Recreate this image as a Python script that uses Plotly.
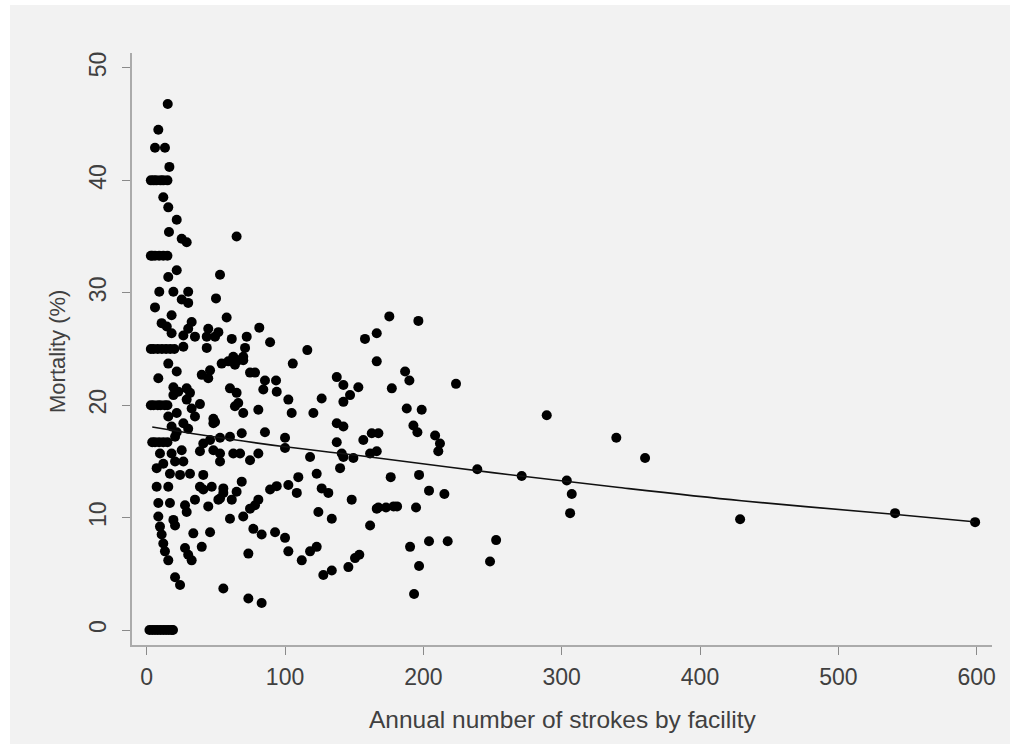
import plotly.graph_objects as go

# Facilities with very few strokes per year (mortality falls on k/n fractions)
strokes_small = [15.2, 8.4, 6, 13.2, 16.4,
                 3, 5, 7, 10, 12, 15,
                 12, 15.6, 21.7, 16.1, 25.3, 28.9, 65,
                 3, 4, 6, 9, 12, 15,
                 21.7, 15.6, 53,
                 9.1, 19.3, 30, 25.3, 30, 50.1, 6, 18, 57.8, 10.8, 14.5, 32.5, 30, 18, 44.5,
                 51.8, 26.5, 34.9, 43.4, 61.5,
                 3, 5, 8, 11, 14, 17, 20,
                 26.5, 43.4, 59, 66.2, 15.6, 8.4, 21.7, 39.8, 45.8, 44.5, 60.2, 19.3, 22.8,
                 28.9, 31.3,
                 3, 5, 8, 10, 13, 15,
                 19.3, 28.9, 32.5, 38.5, 21.7, 15.6, 34.9, 49.4, 26.5, 18, 21.7, 30,
                 4, 6, 9, 12, 15,
                 20.5, 40.9, 45.8, 53, 60.2, 9.6, 18, 25.3, 38.5, 48.2, 53, 62.6, 12, 20.5,
                 26.5, 7.2, 16.8, 24.1, 31.3,
                 7.2, 15.6, 38.5, 47, 55.4, 8.4, 16.8, 27.7, 28.9, 34.9, 44.5, 53, 60.2,
                 8.4, 19.3, 9.6, 10.8, 12, 13.2, 15.6, 20.5, 33.7, 45.8, 39.8, 27.7, 30,
                 32.5, 20.5, 24.1, 55.4,
                 2, 4, 6, 8, 10, 12, 14, 16, 18, 19]
mortality_small = [46.8, 44.5, 42.9, 42.9, 41.2,
                   40, 40, 40, 40, 40, 40,
                   38.5, 37.6, 36.5, 35.4, 34.8, 34.5, 35.0,
                   33.3, 33.3, 33.3, 33.3, 33.3, 33.3,
                   32.0, 31.4, 31.6,
                   30.1, 30.1, 30.1, 29.4, 29.1, 29.5, 28.7, 28.0, 27.8, 27.3, 27.0, 27.4,
                   26.8, 26.4, 26.8, 26.5, 26.2, 26.1, 26.1, 25.9,
                   25, 25, 25, 25, 25, 25, 25,
                   25.2, 25.1, 23.9, 24.0, 23.7, 22.4, 23.0, 22.7, 23.1, 22.4, 21.5, 21.6,
                   21.2, 21.5, 21.1,
                   20, 20, 20, 20, 20, 20,
                   20.9, 20.5, 19.7, 20.1, 19.3, 19.0, 19.0, 18.5, 18.4, 18.1, 17.6, 17.9,
                   16.7, 16.7, 16.7, 16.7, 16.7,
                   17.2, 16.6, 16.9, 17.1, 17.2, 15.7, 15.7, 16.0, 15.9, 16.0, 15.7, 15.7,
                   14.8, 15.0, 15.0, 14.4, 13.9, 13.8, 13.9,
                   12.75, 12.75, 12.75, 12.75, 12.2, 11.3, 11.3, 11.1, 10.5, 11.6, 11.0,
                   11.7, 9.9, 10.1, 9.8, 9.2, 8.5, 7.7, 7.0, 6.2, 9.3, 8.6, 8.7, 7.4, 7.3,
                   6.7, 6.2, 4.7, 4.0, 3.7,
                   0, 0, 0, 0, 0, 0, 0, 0, 0, 0]

# Mid-sized facilities
strokes_mid = [49.4, 81.4, 72.3, 89.2, 71.1, 116.1, 157.8, 166.3, 166.3, 69.8, 54.2,
               62.6, 63.8, 69.8, 105.6, 74.7, 78.3, 85.5, 93.5, 84.3, 94, 65, 66.2,
               137.4, 142.2, 153, 102.4, 126.5, 147, 142.2, 69.8, 80.7, 104.8, 120.5,
               48.2, 63.8,
               48.2, 68.7, 85.5, 100, 100, 137.4, 142.2, 137.4, 156.6, 162.7, 167.5,
               53, 67.5, 74.7, 80.7, 118.1, 141, 142.2, 149.4, 161.5, 166.3, 139.8,
               122.9, 109.6, 40.9, 68.7, 89.2, 94, 102.4, 108.5, 126.5, 131.3, 148.2,
               166.3, 40.9, 55.4, 65, 51.8, 61.5, 74.7, 78.3, 80.7, 69.8, 124.1, 133.8,
               161.5, 77.1, 83.1, 92.8, 100, 73.5, 102.4, 112.1, 118.1, 122.9, 127.7,
               133.8, 145.8, 150.6, 153.7, 73.5, 83.1]
mortality_mid = [26.1, 26.9, 26.1, 25.6, 25.1, 24.9, 25.9, 26.4, 23.9, 24.3, 23.7,
                 24.3, 23.6, 24.0, 23.7, 22.9, 22.9, 22.2, 22.2, 21.4, 21.2, 21.1, 20.2,
                 22.5, 21.8, 21.6, 20.5, 20.6, 20.9, 20.3, 19.3, 19.6, 19.3, 19.3,
                 18.8, 19.9,
                 18.4, 17.5, 17.6, 17.1, 16.2, 18.4, 18.1, 16.7, 16.9, 17.5, 17.5,
                 15.0, 15.7, 15.1, 15.7, 15.4, 15.7, 15.4, 15.3, 15.7, 15.9, 14.4,
                 13.9, 13.6, 13.8, 13.2, 12.5, 12.8, 12.9, 12.2, 12.6, 12.2, 11.6,
                 10.8, 12.5, 12.6, 12.3, 11.6, 11.6, 10.8, 11.1, 11.6, 10.1, 10.5, 9.9,
                 9.3, 9.0, 8.5, 8.7, 8.2, 6.8, 7.0, 6.2, 7.0, 7.4, 4.9,
                 5.3, 5.6, 6.4, 6.7, 2.8, 2.4]

# Large facilities
strokes_large = [175.4, 196.4, 186.8, 189.9, 223.6, 177.2, 188, 198.8, 289.2, 192.8,
                 195.7, 208.5, 212, 210.8, 339.5, 239, 271.1, 303.7, 307.3, 306.1,
                 176.4, 196.9, 204.1, 215.2, 167.5, 173, 178.5, 181, 194.7, 190.4,
                 204.1, 217.6, 252.6, 248.2, 196.9, 193.3, 360.3, 429, 541, 598.9]
mortality_large = [27.9, 27.5, 23.0, 22.2, 21.9, 21.5, 19.7, 19.6, 19.1, 18.2,
                   17.6, 17.3, 16.6, 15.9, 17.1, 14.3, 13.7, 13.3, 12.1, 10.4,
                   13.6, 13.8, 12.4, 12.1, 10.9, 10.9, 11.0, 11.0, 10.9, 7.4,
                   7.9, 7.9, 8.0, 6.1, 5.7, 3.2, 15.3, 9.85, 10.4, 9.6]

# Fitted mortality curve
fit_strokes = [4, 40, 100, 160, 250, 340, 430, 540, 598]
fit_mortality = [18.06, 17.35, 16.3, 15.42, 14.0, 12.7, 11.5, 10.3, 9.63]

x_ticks = [0, 100, 200, 300, 400, 500, 600]
y_ticks = [0, 10, 20, 30, 40, 50]

strokes = strokes_small + strokes_mid + strokes_large
mortality = mortality_small + mortality_mid + mortality_large

FONT = "Liberation Sans, Arial, Helvetica, sans-serif"
TEXT = "#404040"
AXIS = "#ababab"

fig = go.Figure()
fig.add_trace(go.Scatter(
    x=strokes, y=mortality, mode="markers",
    marker=dict(color="#000000", size=10, line=dict(width=0)),
    hoverinfo="x+y", showlegend=False,
))
fig.add_trace(go.Scatter(
    x=fit_strokes, y=fit_mortality, mode="lines",
    line=dict(color="#111111", width=1.6, shape="spline"),
    hoverinfo="skip", showlegend=False,
))

# plot area spans pixels 132..992 horizontally and 53..645 vertically
L, R, T, B = 132, 18, 53, 99
W, H = 1010, 744
pw, ph = W - L - R, H - T - B

def px_x(p):
    return (p - L) / pw

def px_y(p):
    return (H - B - p) / ph

fig.add_shape(type="rect", xref="paper", yref="paper",
              x0=px_x(10), x1=px_x(1012), y0=px_y(746), y1=px_y(5),
              fillcolor="#f2f2f2", line=dict(width=0), layer="below")

fig.update_layout(
    width=W, height=H,
    margin=dict(l=L, r=R, t=T, b=B, pad=0),
    paper_bgcolor="#ffffff",
    plot_bgcolor="#f2f2f2",
    font=dict(family=FONT, size=22, color=TEXT),
    xaxis=dict(
        range=[-10.63, 611.1], tickvals=x_ticks, ticktext=[str(v) for v in x_ticks],
        showgrid=False, zeroline=False, showline=True, linecolor=AXIS, linewidth=2,
        ticks="outside", ticklen=8, tickwidth=1, tickcolor="#8a8a8a",
        tickfont=dict(family=FONT, size=23, color=TEXT), ticklabelstandoff=2,
    ),
    yaxis=dict(
        range=[-1.33, 51.33], tickvals=y_ticks, ticktext=[str(v) for v in y_ticks],
        showgrid=False, zeroline=False, showline=True, linecolor=AXIS, linewidth=2,
        ticks="outside", ticklen=8, tickwidth=1, tickcolor="#8a8a8a", tickangle=-90,
        tickfont=dict(family=FONT, size=23, color=TEXT), ticklabelstandoff=7,
    ),
    annotations=[
        dict(text="Annual number of strokes by facility", xref="paper", yref="paper",
             x=px_x(562), y=px_y(719), showarrow=False, xanchor="center",
             yanchor="middle", font=dict(family=FONT, size=24.5, color=TEXT)),
        dict(text="Mortality (%)", xref="paper", yref="paper",
             x=px_x(57), y=px_y(352), showarrow=False, textangle=-90,
             xanchor="center", yanchor="middle",
             font=dict(family=FONT, size=22, color=TEXT)),
    ],
)

fig.write_html("out.html")
